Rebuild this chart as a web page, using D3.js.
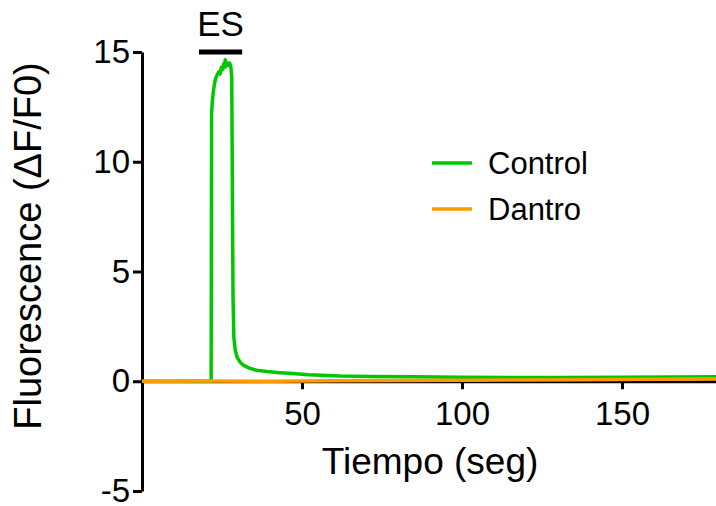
<!DOCTYPE html>
<html>
<head>
<meta charset="utf-8">
<script src="https://cdn.jsdelivr.net/npm/d3@7"></script>
<style>
    body { margin: 0; background: #fff; }
    svg text { font-family: Arial, "Liberation Sans", sans-serif; fill: #000; }
</style>
</head>
<body>
<svg id="chart"></svg>
<script>
    // time (s) and fluorescence (dF/F0)
    var controlT = [0, 5, 10, 15, 20, 21.6, 21.75, 22.0, 22.3, 22.6, 23.0, 23.5, 24.0, 24.4, 24.8, 25.2, 25.5, 25.8, 26.0, 26.3, 26.6, 27.0, 27.4, 27.8, 28.05, 28.25, 28.45, 28.7, 29.1, 29.7, 30.6, 31.8, 33.5, 35.8, 39, 43, 46, 52, 62, 72, 85, 100, 115, 130, 150, 165, 180];
    var controlF = [0, 0, 0, 0, 0, 0, 12.2, 12.8, 13.2, 13.5, 13.8, 13.95, 14.1, 14.0, 14.3, 14.2, 14.45, 14.3, 14.65, 14.35, 14.5, 14.4, 14.5, 14.3, 13.8, 8.5, 3.8, 2.0, 1.45, 1.1, 0.88, 0.72, 0.6, 0.5, 0.44, 0.39, 0.36, 0.3, 0.24, 0.22, 0.2, 0.18, 0.17, 0.17, 0.18, 0.19, 0.2];

    var dantroT = [0, 20, 40, 60, 80, 100, 120, 140, 160, 180];
    var dantroF = [0, 0.01, 0.0, 0.02, 0.03, 0.04, 0.06, 0.07, 0.09, 0.1];

    var yTicks = [-5, 0, 5, 10, 15];
    var xTicks = [50, 100, 150];
    var esBar = [17.8, 31.3];   // stimulation period, drawn at the top
    var seriesNames = ["Control", "Dantro"];
    var seriesColors = ["#00c800", "#ff9900"];

    var width = 716, height = 506;

    var svg = d3.select("#chart")
        .attr("width", width)
        .attr("height", height);

    var x = d3.scaleLinear().domain([0, 180]).range([142, 718]);
    var y = d3.scaleLinear().domain([-5, 15]).range([491, 52]);

    // axes (plain hyphen for negatives, like the original)
    var yAxis = svg.append("g")
        .attr("transform", "translate(" + x(0) + ",0)")
        .call(d3.axisLeft(y).tickValues(yTicks).tickFormat(function(d) { return String(d); })
            .tickSize(9).tickSizeOuter(0).tickPadding(3));

    var xAxis = svg.append("g")
        .attr("transform", "translate(0," + y(0) + ")")
        .call(d3.axisBottom(x).tickValues(xTicks).tickSize(8).tickSizeOuter(0).tickPadding(12));

    [yAxis, xAxis].forEach(function(g) {
        g.select(".domain").attr("stroke", "#000").attr("stroke-width", 3);
        g.selectAll(".tick line").attr("stroke", "#000").attr("stroke-width", 3);
        g.selectAll(".tick text").style("font-size", "33px");
    });

    // traces
    var line = d3.line()
        .x(function(d) { return x(d[0]); })
        .y(function(d) { return y(d[1]); });

    var series = [
        d3.zip(controlT, controlF),
        d3.zip(dantroT, dantroF)
    ];

    series.forEach(function(pts, i) {
        svg.append("path")
            .datum(pts)
            .attr("fill", "none")
            .attr("stroke", seriesColors[i])
            .attr("stroke-width", 3.5)
            .attr("stroke-linejoin", "round")
            .attr("d", line);
    });

    // ES bar
    svg.append("line")
        .attr("x1", x(esBar[0]))
        .attr("x2", x(esBar[1]))
        .attr("y1", y(15))
        .attr("y2", y(15))
        .attr("stroke", "#000")
        .attr("stroke-width", 5);

    svg.append("text")
        .attr("x", x((esBar[0] + esBar[1]) / 2))
        .attr("y", 36)
        .attr("text-anchor", "middle")
        .style("font-size", "35px")
        .text("ES");

    // legend
    var legend = svg.append("g").attr("transform", "translate(432,163)");
    seriesNames.forEach(function(name, i) {
        var row = legend.append("g").attr("transform", "translate(0," + (i * 46) + ")");
        row.append("line")
            .attr("x1", 0).attr("x2", 40)
            .attr("stroke", seriesColors[i])
            .attr("stroke-width", 3.5);
        row.append("text")
            .attr("x", 56)
            .attr("dy", "0.36em")
            .style("font-size", "31px")
            .text(name);
    });

    // axis titles
    svg.append("text")
        .attr("x", 430)
        .attr("y", 474)
        .attr("text-anchor", "middle")
        .style("font-size", "37px")
        .text("Tiempo (seg)");

    svg.append("text")
        .attr("transform", "translate(41,246) rotate(-90)")
        .attr("text-anchor", "middle")
        .style("font-size", "38px")
        .text("Fluorescence (ΔF/F0)");
</script>
</body>
</html>
